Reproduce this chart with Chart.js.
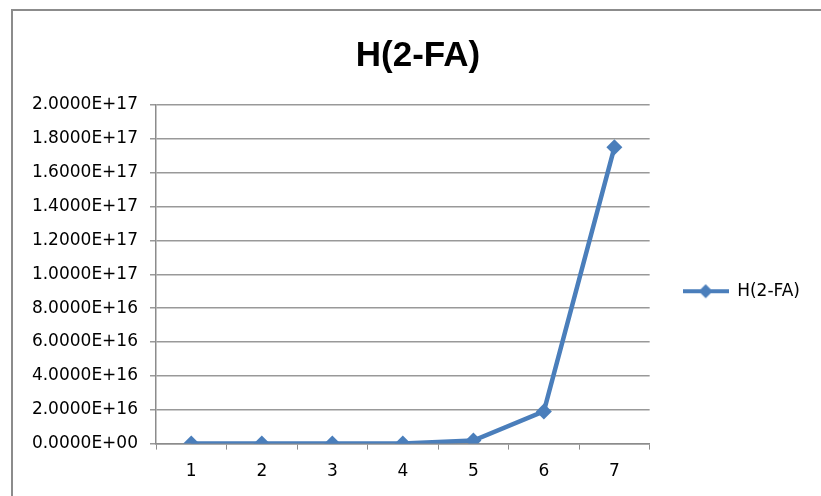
<!DOCTYPE html>
<html>
<head>
<meta charset="utf-8">
<script src="https://cdn.jsdelivr.net/npm/chart.js@4.4.1/dist/chart.umd.min.js"></script>
<style>
  html, body { margin: 0; padding: 0; background: #fff; }
  #wrap { position: relative; width: 821px; height: 496px; overflow: hidden; }
  #frame { position: absolute; left: 11px; top: 9px; width: 900px; height: 600px;
           border-left: 2px solid #8c8c8c; border-top: 2px solid #8c8c8c; }
  #chart { position: absolute; left: 0; top: 0; }
</style>
</head>
<body>
<div id="wrap">
  <div id="frame"></div>
  <canvas id="chart" width="821" height="496"></canvas>
</div>
<script>
const categories = ["1", "2", "3", "4", "5", "6", "7"];
const seriesName = "H(2-FA)";
const seriesValues = [0, 0, 0, 0, 1.8e15, 1.9e16, 1.75e17];
const yMin = 0;
const yMax = 2e17;
const yStep = 2e16;

const lineColor = "#4a7ebb";

// Excel style scientific label: 2.0000E+17
function sciLabel(v) {
  const parts = Number(v).toExponential(4).split("e");
  let exp = parseInt(parts[1], 10);
  const sign = exp < 0 ? "-" : "+";
  exp = Math.abs(exp);
  return parts[0] + "E" + sign + (exp < 10 ? "0" + exp : exp);
}

// legend icon: short line with a diamond in the middle
function legendIcon() {
  const c = document.createElement("canvas");
  c.width = 46;
  c.height = 16;
  const g = c.getContext("2d");
  g.strokeStyle = lineColor;
  g.lineWidth = 4;
  g.beginPath();
  g.moveTo(0, 8);
  g.lineTo(46, 8);
  g.stroke();
  g.fillStyle = lineColor;
  g.beginPath();
  g.moveTo(23, 1);
  g.lineTo(30, 8);
  g.lineTo(23, 15);
  g.lineTo(16, 8);
  g.closePath();
  g.fill();
  return c;
}

const tickFont = { family: "DejaVu Sans", size: 17 };

new Chart(document.getElementById("chart"), {
  type: "line",
  data: {
    labels: categories,
    datasets: [
      {
        label: seriesName,
        data: seriesValues,
        borderColor: lineColor,
        backgroundColor: lineColor,
        borderWidth: 4.5,
        pointStyle: "rectRot",
        pointRadius: 8,
        pointHoverRadius: 8,
        pointBorderWidth: 0,
        tension: 0,
      },
    ],
  },
  options: {
    responsive: false,
    animation: false,
    devicePixelRatio: 1,
    layout: { padding: { top: 10, left: 26, right: 11, bottom: 2 } },
    plugins: {
      title: {
        display: true,
        text: seriesName,
        color: "#000",
        font: { family: "Liberation Sans", size: 35, weight: "bold", lineHeight: 1.2 },
        padding: { top: 25, bottom: 28 },
      },
      legend: {
        position: "right",
        title: { display: true, text: " ", padding: { top: 0, bottom: 64 } },
        labels: {
          usePointStyle: true,
          pointStyle: legendIcon(),
          pointStyleWidth: 46,
          padding: 33,
          color: "#000",
          font: { family: "DejaVu Sans", size: 17 },
        },
      },
      tooltip: { enabled: false },
    },
    scales: {
      x: {
        offset: true,
        grid: {
          offset: true,
          drawOnChartArea: false,
          drawTicks: true,
          tickLength: 6,
          color: "#8c8c8c",
        },
        border: { color: "#8c8c8c", width: 1.5 },
        ticks: { color: "#000", font: tickFont, padding: 12 },
      },
      y: {
        min: yMin,
        max: yMax,
        afterFit: function (scale) {
          scale.width = 130;
        },
        grid: { color: "#999", lineWidth: 1.5, tickLength: 6 },
        border: { color: "#8c8c8c", width: 1.5 },
        ticks: {
          stepSize: yStep,
          color: "#000",
          font: tickFont,
          padding: 12,
          callback: function (v) {
            return sciLabel(v);
          },
        },
      },
    },
  },
});
</script>
</body>
</html>
